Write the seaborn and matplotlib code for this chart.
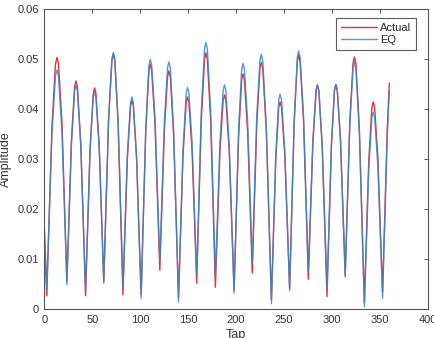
import pandas as pd
import seaborn as sns
import matplotlib
matplotlib.use('Agg')
import matplotlib.pyplot as plt

# tap positions (troughs, flanks, peaks)
tap = [0, 2.5, 7.9, 11.6, 13.2, 14.7, 18.4,
       23.5, 28.3, 31.6, 33, 34.5, 38,
       43, 47.7, 51.0, 52.4, 53.8, 57.2,
       62, 67, 70.5, 72, 73.5, 77,
       82, 86.7, 90.0, 91.4, 92.8, 96.2,
       101, 105.8, 109.1, 110.5, 112.0, 115.5,
       120.5, 125.3, 128.6, 130, 131.5, 135,
       140, 144.7, 148.0, 149.4, 150.8, 154.2,
       159, 163.8, 167.2, 168.6, 170.1, 173.6,
       178.5, 183.3, 186.6, 188, 189.5, 193,
       198, 202.7, 205.9, 207.3, 208.8, 212.2,
       217, 221.7, 225.0, 226.4, 228.0, 231.7,
       237, 241.5, 244.6, 246, 247.5, 251,
       256, 260.7, 264.0, 265.4, 266.9, 270.5,
       275.5, 280.3, 283.6, 285, 286.5, 290,
       295, 299.6, 302.8, 304.2, 305.7, 309.1,
       314, 318.8, 322.2, 323.6, 325.2, 328.8,
       334, 338.6, 341.8, 343.2, 344.7, 348.1,
       353, 357.9, 360]

actual = [0.0150, 0.0027, 0.0364, 0.0490, 0.0503, 0.0491, 0.0372,
          0.0056, 0.0339, 0.0445, 0.0456, 0.0444, 0.0330,
          0.0027, 0.0320, 0.0430, 0.0442, 0.0431, 0.0329,
          0.0056, 0.0377, 0.0497, 0.0510, 0.0497, 0.0369,
          0.0029, 0.0304, 0.0407, 0.0418, 0.0407, 0.0304,
          0.0030, 0.0355, 0.0476, 0.0489, 0.0477, 0.0369,
          0.0078, 0.0359, 0.0465, 0.0476, 0.0463, 0.0344,
          0.0024, 0.0307, 0.0413, 0.0424, 0.0414, 0.0315,
          0.0052, 0.0377, 0.0499, 0.0512, 0.0499, 0.0375,
          0.0044, 0.0315, 0.0417, 0.0428, 0.0417, 0.0314,
          0.0038, 0.0343, 0.0458, 0.0470, 0.0459, 0.0353,
          0.0072, 0.0370, 0.0481, 0.0493, 0.0480, 0.0354,
          0.0019, 0.0298, 0.0403, 0.0414, 0.0404, 0.0305,
          0.0042, 0.0371, 0.0495, 0.0508, 0.0495, 0.0377,
          0.0060, 0.0334, 0.0437, 0.0448, 0.0436, 0.0324,
          0.0025, 0.0325, 0.0437, 0.0449, 0.0438, 0.0337,
          0.0068, 0.0376, 0.0492, 0.0504, 0.0490, 0.0360,
          0.0014, 0.0297, 0.0403, 0.0414, 0.0403, 0.0303,
          0.0035, 0.0360, 0.0452]

eq = [0.0165, 0.0040, 0.0350, 0.0466, 0.0478, 0.0466, 0.0352,
      0.0049, 0.0331, 0.0437, 0.0448, 0.0436, 0.0328,
      0.0037, 0.0318, 0.0423, 0.0434, 0.0423, 0.0322,
      0.0052, 0.0378, 0.0500, 0.0513, 0.0500, 0.0376,
      0.0045, 0.0313, 0.0413, 0.0424, 0.0413, 0.0306,
      0.0022, 0.0359, 0.0486, 0.0499, 0.0488, 0.0381,
      0.0095, 0.0377, 0.0483, 0.0494, 0.0481, 0.0354,
      0.0015, 0.0318, 0.0431, 0.0443, 0.0433, 0.0333,
      0.0068, 0.0397, 0.0520, 0.0533, 0.0520, 0.0396,
      0.0066, 0.0336, 0.0437, 0.0448, 0.0436, 0.0326,
      0.0032, 0.0357, 0.0478, 0.0491, 0.0480, 0.0374,
      0.0092, 0.0387, 0.0497, 0.0509, 0.0495, 0.0363,
      0.0011, 0.0307, 0.0418, 0.0430, 0.0419, 0.0315,
      0.0037, 0.0376, 0.0503, 0.0516, 0.0504, 0.0387,
      0.0075, 0.0339, 0.0438, 0.0448, 0.0437, 0.0329,
      0.0042, 0.0330, 0.0438, 0.0449, 0.0438, 0.0336,
      0.0064, 0.0368, 0.0482, 0.0494, 0.0480, 0.0351,
      0.0005, 0.0280, 0.0383, 0.0394, 0.0384, 0.0285,
      0.0022, 0.0345, 0.0436]

x_ticks = [0, 50, 100, 150, 200, 250, 300, 350, 400]
y_ticks = [0, 0.01, 0.02, 0.03, 0.04, 0.05, 0.06]
y_tick_labels = ['0', '0.01', '0.02', '0.03', '0.04', '0.05', '0.06']

df = pd.DataFrame({'tap': tap, 'Actual': actual, 'EQ': eq})

sns.set_style('white')
plt.rcParams['font.family'] = ['Liberation Sans', 'DejaVu Sans']

fig = plt.figure(figsize=(4.35, 3.38), dpi=100)
ax = fig.add_axes([0.102, 0.085, 0.881, 0.889])

sns.lineplot(data=df, x='tap', y='Actual', color='#e8303a', lw=1.0,
             estimator=None, label='Actual', ax=ax)
sns.lineplot(data=df, x='tap', y='EQ', color='#2f8ad0', lw=1.0, alpha=0.85,
             estimator=None, label='EQ', ax=ax)

ax.set_xlim(0, 400)
ax.set_ylim(0, 0.06)
ax.set_xticks(x_ticks)
ax.set_yticks(y_ticks)
ax.set_yticklabels(y_tick_labels)
ax.set_xlabel('Tap', fontsize=9, color='#333333', labelpad=3)
ax.set_ylabel('Amplitude', fontsize=9, color='#333333', labelpad=4)

# matlab-like box with inward ticks
for s in ax.spines.values():
    s.set_color('#555555')
    s.set_linewidth(0.8)
ax.tick_params(direction='in', top=True, right=True, length=3, width=0.7,
               colors='#555555', labelcolor='#333333', labelsize=8, pad=4)

leg = ax.legend(loc='upper right', bbox_to_anchor=(0.970, 0.969), fontsize=8,
                frameon=True, fancybox=False, handlelength=3.2,
                handletextpad=0.3, borderaxespad=0.0, borderpad=0.45,
                labelspacing=0.2)
leg.get_frame().set_edgecolor('#333333')
leg.get_frame().set_linewidth(0.8)

plt.savefig('out.png', dpi=100)
